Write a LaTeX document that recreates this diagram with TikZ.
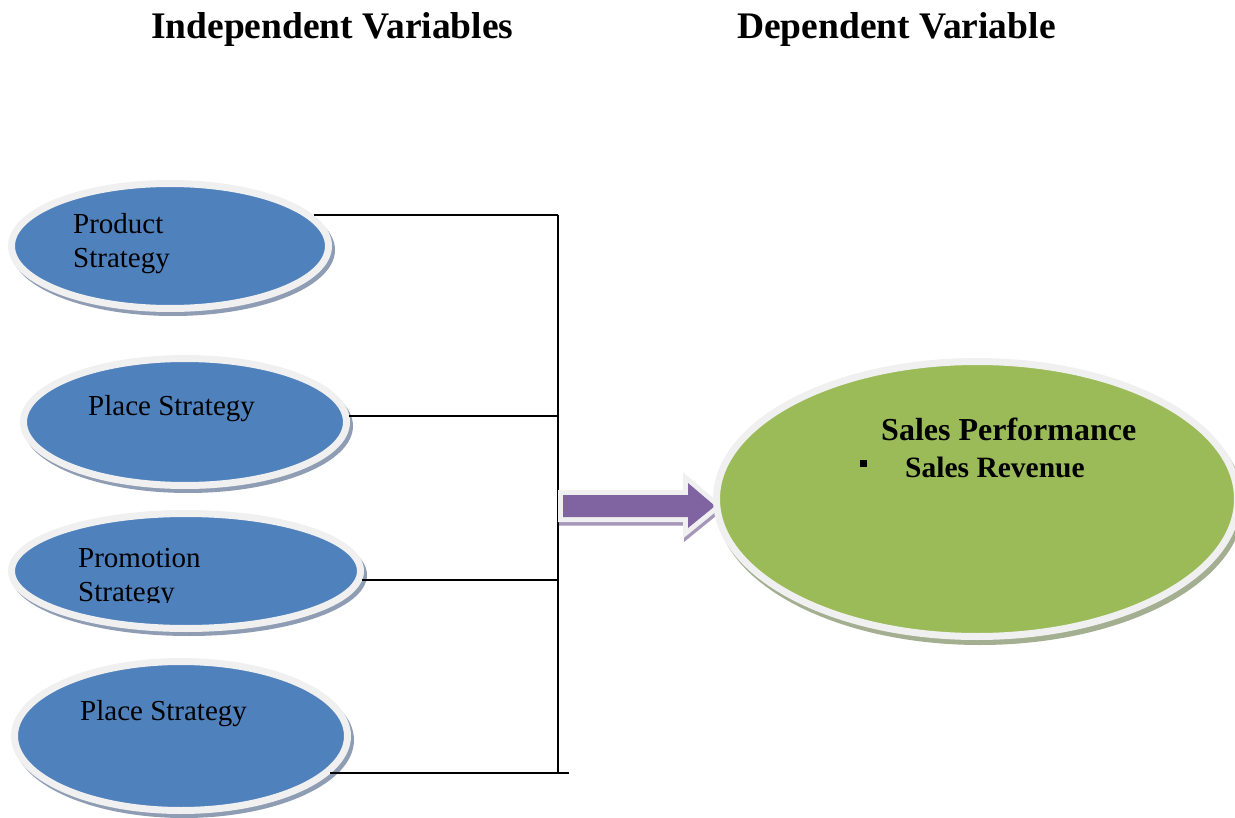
\documentclass[tikz,border=0pt]{standalone}
\usepackage{fontspec}
\setmainfont{Liberation Serif}
\usetikzlibrary{calc,shapes.geometric}
\definecolor{blueC}{HTML}{4F81BD}
\definecolor{greenC}{HTML}{9BBB59}
\definecolor{purpleC}{HTML}{8064A2}
\definecolor{rimC}{HTML}{F0F0F0}
\definecolor{blueS}{HTML}{8F9DB4}
\definecolor{greenS}{HTML}{A4AE90}
\definecolor{purpleS}{HTML}{A596BA}
\tikzset{
  blob/.style={ellipse, draw=rimC, line width=7pt, inner sep=0pt},
  wire/.style={draw=black, line width=2pt},
  bodytext/.style={anchor=base west, inner sep=0pt, font=\fontsize{29}{34}\selectfont},
  titletext/.style={anchor=base west, inner sep=0pt, font=\fontsize{37.5}{40}\selectfont\bfseries},
  boldtext/.style={anchor=base west, inner sep=0pt, font=\fontsize{32}{36}\selectfont\bfseries},
}
\begin{document}
\begin{tikzpicture}[x=1pt,y=-1pt]
\useasboundingbox (0,0) rectangle (1235,818);

% titles
\node[titletext] (tIV) at (151,39) {Independent Variables};
\node[titletext] (tDV) at (737,39) {Dependent Variable};

% blue ellipses: shadows then nodes
\fill[blueS] ([shift={(3,4)}]170,246) ellipse [x radius=162, y radius=66];
\node[blob, fill=blueC, minimum width=317pt, minimum height=125pt] (e1) at (170,246) {};
\fill[blueS] ([shift={(3,4)}]185,422) ellipse [x radius=165, y radius=67];
\node[blob, fill=blueC, minimum width=323pt, minimum height=127pt] (e2) at (185,422) {};
\fill[blueS] ([shift={(3,4)}]186,571) ellipse [x radius=178, y radius=61];
\node[blob, fill=blueC, minimum width=349pt, minimum height=115pt] (e3) at (186,571) {};
\fill[blueS] ([shift={(3,4)}]181,736) ellipse [x radius=170, y radius=78];
\node[blob, fill=blueC, minimum width=333pt, minimum height=149pt] (e4) at (181,736) {};

% texts
\node[bodytext] (t1a) at (73,234) {Product};
\node[bodytext] (t1b) at (73,268) {Strategy};
\node[bodytext] (t2) at (88,415) {Place Strategy};
\node[bodytext] (t3a) at (78,567) {Promotion};
\begin{scope}
  \clip (60,570) rectangle (260,602);
  \node[bodytext] (t3b) at (78,601) {Strategy};
\end{scope}
\node[bodytext] (t4) at (80,720) {Place Strategy};

% bus connectors
\coordinate (bus) at (558,0);
\coordinate (tail) at (569,0);
\draw[wire] (e1.12.7) -- (e1.12.7 -| bus);
\draw[wire] (e2.2.8) -- (e2.2.8 -| bus);
\draw[wire] (e3.-3.9) -- (e3.-3.9 -| bus);
\draw[wire] (e4.-14.4) -- (e4.-14.4 -| tail);
\draw[wire] (e1.12.7 -| bus) -- (e4.-14.4 -| bus);

% block arrow
\draw[fill=purpleS, draw=purpleS, line width=10pt, line join=miter, shift={(1,3.5)}]
  (563,495) -- (688,495) -- (688,483) -- (715,506) -- (688,528) -- (688,517) -- (563,517) -- cycle;
\draw[fill=purpleC, draw=rimC, line width=10pt, line join=miter]
  (563,495) -- (688,495) -- (688,483) -- (715,506) -- (688,528) -- (688,517) -- (563,517) -- cycle;
\fill[purpleC]
  (563,495) -- (688,495) -- (688,483) -- (715,506) -- (688,528) -- (688,517) -- (563,517) -- cycle;

% green ellipse
\fill[greenS] ([shift={(3,5)}]977,499) ellipse [x radius=264, y radius=141];
\node[blob, fill=greenC, minimum width=521pt, minimum height=275pt] (g) at (977,499) {};
\node[boldtext] (gt1) at (881,440) {Sales Performance};
\node[fill=black, inner sep=0pt, minimum size=7pt] (bul) at (863,463) {};
\node[boldtext, font=\fontsize{29.5}{34}\selectfont\bfseries] (gt2) at (905,477) {Sales Revenue};
\end{tikzpicture}
\end{document}
